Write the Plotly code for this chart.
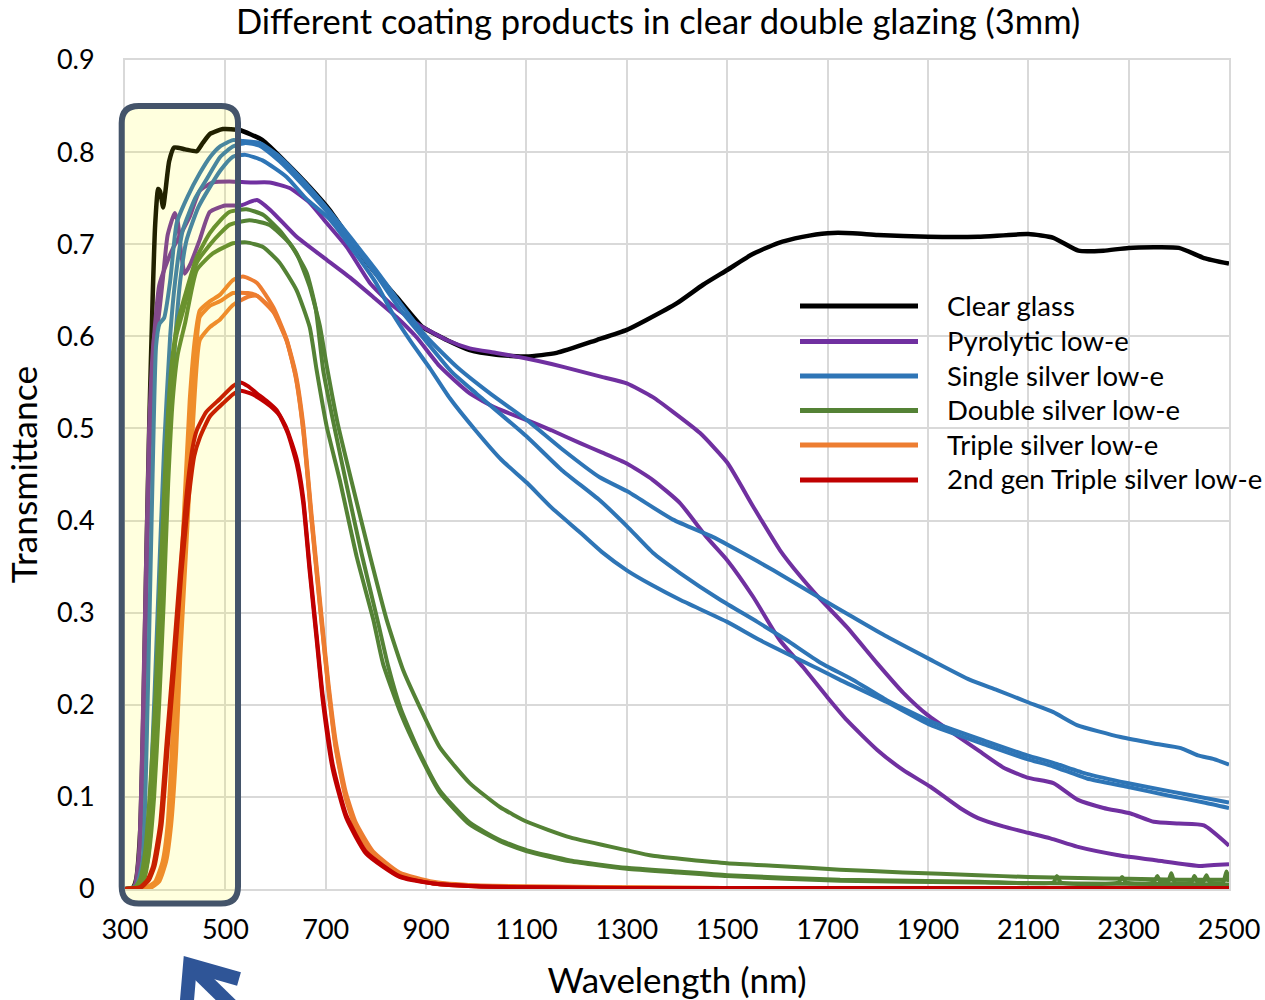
import plotly.graph_objects as go

# ---------------- data ----------------
clear_wl = [300, 315, 322, 330, 337, 343, 349, 355, 360, 366, 370, 376, 380, 388, 398, 420, 443, 455, 470, 495,
            528, 574, 622, 668, 708, 754, 794, 841, 893, 941, 987, 1040, 1100, 1160, 1240, 1300, 1340, 1400, 1452,
            1500, 1550, 1600, 1650, 1700, 1750, 1800, 1900, 2000, 2100, 2150, 2200, 2250, 2300, 2400, 2450, 2500]
clear_t = [0, 0.001, 0.01, 0.06, 0.2, 0.37, 0.52, 0.64, 0.72, 0.76, 0.757, 0.74, 0.755, 0.79, 0.805, 0.803, 0.801,
           0.81, 0.82, 0.825, 0.824, 0.813, 0.788, 0.762, 0.737, 0.701, 0.672, 0.643, 0.61, 0.596, 0.585, 0.58,
           0.578, 0.582, 0.596, 0.607, 0.618, 0.636, 0.656, 0.672, 0.689, 0.701, 0.708, 0.712, 0.712, 0.710, 0.708,
           0.708, 0.711, 0.707, 0.693, 0.693, 0.696, 0.696, 0.685, 0.679]

pyro1_wl = [300, 318, 328, 338, 348, 358, 368, 380, 395, 410, 429, 449, 475, 508, 550, 588, 628, 668, 702, 742,
            788, 828, 881, 941, 987, 1040, 1100, 1150, 1200, 1250, 1300, 1352, 1392, 1446, 1500, 1552, 1605, 1645,
            1685, 1739, 1799, 1851, 1899, 1951, 1999, 2050, 2098, 2150, 2198, 2250, 2304, 2350, 2400, 2450, 2500]
pyro1_t = [0, 0.002, 0.03, 0.2, 0.45, 0.6, 0.655, 0.675, 0.695, 0.71, 0.73, 0.758, 0.767, 0.768, 0.767, 0.767,
           0.761, 0.745, 0.723, 0.697, 0.658, 0.636, 0.614, 0.596, 0.587, 0.582, 0.576, 0.57, 0.563, 0.556, 0.549,
           0.534, 0.518, 0.495, 0.463, 0.415, 0.368, 0.34, 0.315, 0.284, 0.245, 0.213, 0.189, 0.169, 0.151, 0.132,
           0.121, 0.115, 0.097, 0.088, 0.082, 0.073, 0.071, 0.069, 0.047]

pyro2_wl = [300, 318, 328, 338, 348, 358, 366, 375, 385, 399, 405, 412, 419, 430, 449, 469, 500, 530, 563, 590,
            642, 702, 748, 794, 841, 881, 928, 987, 1040, 1101, 1150, 1207, 1250, 1300, 1352, 1406, 1459, 1500,
            1552, 1605, 1651, 1700, 1739, 1799, 1851, 1905, 1964, 2000, 2050, 2100, 2144, 2197, 2277, 2357, 2443,
            2470, 2500]
pyro2_t = [0, 0.002, 0.04, 0.25, 0.5, 0.6, 0.617, 0.66, 0.71, 0.734, 0.725, 0.69, 0.668, 0.678, 0.705, 0.735,
           0.742, 0.742, 0.748, 0.737, 0.708, 0.683, 0.664, 0.643, 0.621, 0.599, 0.567, 0.538, 0.522, 0.509, 0.498,
           0.484, 0.474, 0.462, 0.444, 0.419, 0.382, 0.357, 0.317, 0.27, 0.241, 0.208, 0.183, 0.151, 0.129, 0.111,
           0.088, 0.077, 0.068, 0.061, 0.055, 0.046, 0.037, 0.031, 0.025, 0.026, 0.027]

single1_wl = [300, 322, 335, 345, 355, 362, 369, 378, 390, 403, 425, 449, 470, 489, 515, 535, 568, 608, 650, 700,
              750, 800, 850, 900, 961, 1030, 1101, 1170, 1246, 1300, 1392, 1472, 1530, 1592, 1691, 1751, 1818,
              1905, 1984, 2038, 2098, 2150, 2197, 2284, 2350, 2404, 2438, 2470, 2500]
single1_t = [0, 0.003, 0.03, 0.2, 0.45, 0.59, 0.614, 0.62, 0.66, 0.723, 0.752, 0.777, 0.795, 0.806, 0.813, 0.812,
             0.81, 0.795, 0.772, 0.741, 0.707, 0.672, 0.635, 0.6, 0.567, 0.537, 0.509, 0.478, 0.447, 0.432, 0.401,
             0.382, 0.365, 0.346, 0.314, 0.295, 0.274, 0.249, 0.227, 0.216, 0.203, 0.192, 0.178, 0.165, 0.158,
             0.153, 0.145, 0.141, 0.135]

single2_wl = [300, 328, 340, 352, 365, 378, 390, 400, 415, 440, 462, 490, 515, 540, 568, 608, 650, 700, 750, 800,
              850, 901, 950, 1000, 1101, 1170, 1246, 1300, 1352, 1406, 1486, 1560, 1619, 1685, 1751, 1818, 1905,
              2018, 2098, 2150, 2217, 2297, 2383, 2450, 2500]
single2_t = [0, 0.003, 0.03, 0.12, 0.3, 0.48, 0.6, 0.66, 0.715, 0.75, 0.77, 0.795, 0.806, 0.81, 0.807, 0.79,
             0.767, 0.737, 0.703, 0.667, 0.628, 0.594, 0.562, 0.538, 0.491, 0.455, 0.422, 0.394, 0.365, 0.343,
             0.314, 0.29, 0.27, 0.246, 0.227, 0.205, 0.182, 0.16, 0.145, 0.137, 0.125, 0.115, 0.106, 0.099, 0.094]

single3_wl = [300, 330, 345, 358, 372, 385, 398, 410, 423, 446, 469, 490, 515, 540, 574, 622, 660, 708, 750, 800,
              834, 870, 908, 947, 1000, 1050, 1101, 1150, 1207, 1250, 1300, 1350, 1406, 1500, 1566, 1685, 1725,
              1818, 1905, 2018, 2098, 2150, 2217, 2297, 2383, 2450, 2500]
single3_t = [0, 0.003, 0.03, 0.12, 0.3, 0.45, 0.58, 0.66, 0.705, 0.74, 0.762, 0.78, 0.795, 0.797, 0.791, 0.773,
             0.75, 0.727, 0.697, 0.658, 0.624, 0.594, 0.565, 0.533, 0.497, 0.466, 0.441, 0.414, 0.387, 0.366,
             0.346, 0.33, 0.314, 0.29, 0.27, 0.238, 0.227, 0.203, 0.178, 0.156, 0.141, 0.133, 0.12, 0.111, 0.101,
             0.094, 0.088]

double1_wl = [300, 320, 330, 340, 349, 360, 369, 378, 386, 395, 405, 420, 443, 469, 490, 508, 542, 575, 608, 642,
              668, 688, 702, 724, 754, 788, 821, 854, 887, 927, 987, 1047, 1101, 1187, 1300, 1352, 1500, 1600,
              1725, 1850, 2000, 2100, 2200, 2300, 2400, 2500]
double1_t = [0, 0.002, 0.01, 0.04, 0.1, 0.2, 0.32, 0.43, 0.52, 0.58, 0.615, 0.645, 0.686, 0.712, 0.726, 0.735,
             0.738, 0.732, 0.715, 0.69, 0.654, 0.612, 0.568, 0.505, 0.437, 0.362, 0.293, 0.238, 0.198, 0.154,
             0.115, 0.089, 0.073, 0.056, 0.042, 0.036, 0.028, 0.025, 0.021, 0.018, 0.015, 0.013, 0.012, 0.011,
             0.01, 0.01]

double2_wl = [300, 325, 335, 345, 355, 365, 374, 383, 392, 402, 418, 443, 470, 490, 508, 548, 588, 628, 662, 680,
              695, 714, 741, 771, 804, 824, 850, 887, 927, 987, 1047, 1101, 1187, 1300, 1400, 1500, 1725, 2000,
              2150, 2157, 2165, 2280, 2287, 2295, 2350, 2357, 2364, 2378, 2385, 2392, 2425, 2431, 2438, 2448,
              2455, 2462, 2488, 2495, 2500]
double2_t = [0, 0.002, 0.01, 0.04, 0.1, 0.2, 0.32, 0.45, 0.55, 0.6, 0.632, 0.68, 0.7, 0.712, 0.721, 0.726,
             0.721, 0.701, 0.669, 0.63, 0.563, 0.51, 0.44, 0.365, 0.29, 0.243, 0.195, 0.148, 0.107, 0.072, 0.053,
             0.042, 0.031, 0.023, 0.019, 0.015, 0.01, 0.008, 0.007, 0.014, 0.007, 0.007, 0.013, 0.007, 0.007,
             0.014, 0.007, 0.007, 0.017, 0.007, 0.007, 0.014, 0.007, 0.007, 0.015, 0.007, 0.007, 0.019, 0.008]

double3_wl = [300, 328, 338, 348, 358, 368, 377, 386, 395, 405, 420, 443, 475, 515, 542, 575, 608, 642, 668, 682,
              702, 728, 762, 795, 814, 850, 887, 927, 987, 1047, 1101, 1187, 1300, 1400, 1500, 1725, 2000, 2200,
              2500]
double3_t = [0, 0.002, 0.01, 0.04, 0.1, 0.2, 0.31, 0.44, 0.53, 0.58, 0.615, 0.672, 0.69, 0.701, 0.702, 0.697,
             0.68, 0.65, 0.61, 0.563, 0.502, 0.444, 0.36, 0.292, 0.245, 0.19, 0.146, 0.105, 0.07, 0.052, 0.041,
             0.03, 0.022, 0.018, 0.014, 0.009, 0.007, 0.006, 0.005]

triple1_wl = [300, 340, 360, 375, 385, 395, 403, 415, 429, 440, 449, 469, 489, 515, 535, 563, 596, 622, 640, 655,
              672, 690, 705, 720, 740, 760, 794, 847, 914, 1000, 1100, 1300, 1500, 2500]
triple1_t = [0, 0.001, 0.008, 0.03, 0.07, 0.17, 0.27, 0.38, 0.531, 0.6, 0.628, 0.638, 0.645, 0.661, 0.665,
             0.658, 0.631, 0.597, 0.56, 0.505, 0.405, 0.305, 0.225, 0.16, 0.105, 0.072, 0.041, 0.018, 0.008,
             0.004, 0.003, 0.002, 0.001, 0.001]

triple2_wl = [300, 345, 365, 378, 388, 398, 406, 418, 432, 442, 449, 469, 489, 515, 545, 563, 596, 622, 640, 655,
              672, 690, 705, 720, 740, 760, 794, 847, 914, 1000, 1200, 1500, 2500]
triple2_t = [0, 0.001, 0.008, 0.03, 0.07, 0.16, 0.26, 0.38, 0.53, 0.59, 0.621, 0.633, 0.638, 0.647, 0.647,
             0.644, 0.626, 0.595, 0.557, 0.5, 0.4, 0.3, 0.22, 0.155, 0.1, 0.068, 0.038, 0.016, 0.007, 0.003,
             0.002, 0.001, 0.001]

triple3_wl = [300, 350, 368, 382, 392, 402, 410, 422, 436, 449, 469, 489, 515, 545, 563, 596, 622, 640, 655, 672,
              690, 705, 720, 740, 760, 794, 847, 914, 1000, 1200, 1500, 2500]
triple3_t = [0, 0.001, 0.008, 0.03, 0.07, 0.15, 0.25, 0.37, 0.51, 0.596, 0.61, 0.618, 0.634, 0.643, 0.644,
             0.627, 0.596, 0.556, 0.498, 0.398, 0.298, 0.218, 0.152, 0.098, 0.066, 0.037, 0.015, 0.006, 0.003,
             0.002, 0.001, 0.001]

gen2_1_wl = [300, 320, 330, 345, 356, 370, 383, 395, 409, 423, 435, 443, 462, 489, 515, 530, 545, 563, 582, 602,
             622, 642, 655, 668, 682, 694, 714, 741, 781, 847, 914, 1000, 1100, 1300, 2500]
gen2_1_t = [0, 0.001, 0.002, 0.01, 0.025, 0.07, 0.16, 0.24, 0.34, 0.43, 0.48, 0.498, 0.518, 0.532, 0.546, 0.55,
            0.546, 0.538, 0.53, 0.52, 0.5, 0.467, 0.425, 0.35, 0.275, 0.21, 0.135, 0.08, 0.04, 0.014, 0.006,
            0.003, 0.002, 0.001, 0.001]

gen2_2_wl = [300, 322, 333, 348, 359, 373, 386, 398, 412, 426, 438, 449, 469, 495, 515, 530, 550, 570, 590, 608,
             625, 642, 655, 668, 682, 694, 714, 741, 781, 847, 914, 1000, 1100, 1300, 2500]
gen2_2_t = [0, 0.001, 0.002, 0.01, 0.025, 0.07, 0.16, 0.24, 0.34, 0.42, 0.47, 0.49, 0.513, 0.527, 0.537, 0.541,
            0.538, 0.532, 0.524, 0.514, 0.494, 0.462, 0.42, 0.345, 0.27, 0.205, 0.13, 0.077, 0.038, 0.013, 0.006,
            0.003, 0.002, 0.001, 0.001]

x_ticks = [300, 500, 700, 900, 1100, 1300, 1500, 1700, 1900, 2100, 2300, 2500]
y_ticks = [0, 0.1, 0.2, 0.3, 0.4, 0.5, 0.6, 0.7, 0.8, 0.9]
y_tick_text = ["0", "0.1", "0.2", "0.3", "0.4", "0.5", "0.6", "0.7", "0.8", "0.9"]

names = ["Clear glass", "Pyrolytic low-e", "Single silver low-e", "Double silver low-e",
         "Triple silver low-e", "2nd gen Triple silver low-e"]
colors = ["#000000", "#7030A0", "#2E75B6", "#548235", "#ED7D31", "#C00000"]

groups = [
    [(clear_wl, clear_t)],
    [(pyro1_wl, pyro1_t), (pyro2_wl, pyro2_t)],
    [(single1_wl, single1_t), (single2_wl, single2_t), (single3_wl, single3_t)],
    [(double1_wl, double1_t), (double2_wl, double2_t), (double3_wl, double3_t)],
    [(triple1_wl, triple1_t), (triple2_wl, triple2_t), (triple3_wl, triple3_t)],
    [(gen2_1_wl, gen2_1_t), (gen2_2_wl, gen2_2_t)],
]

FONT = "Lato"

# ---------------- layout geometry (page pixels) ----------------
W, H = 1265, 1000
PL, PR, PT, PB = 125, 1229, 60, 889          # plot area
ML, MT = PL, PT
PW, PH = PR - PL, PB - PT
MR, MB = W - ML - PW, H - MT - PH


def px(x):
    return (x - PL) / PW


def py(y):
    return (PB - y) / PH


fig = go.Figure()
for name, color, curves in zip(names, colors, groups):
    for i, (wl, t) in enumerate(curves):
        fig.add_trace(go.Scatter(
            x=wl, y=t, mode="lines", name=name, legendgroup=name,
            showlegend=False,
            line=dict(color=color, width=4.5 if color == "#000000" else 4,
                      shape="spline", smoothing=0.5),
            hoverinfo="x+y+name",
        ))

shapes = []
annotations = []

# highlighted region (rounded rectangle, drawn over the curves)
x0, x1, y0, y1, r = 121.7, 238.0, 106.0, 903.5, 17.0
pts = [
    ("M", (x0 + r, y0)), ("L", (x1 - r, y0)), ("Q", (x1, y0), (x1, y0 + r)),
    ("L", (x1, y1 - r)), ("Q", (x1, y1), (x1 - r, y1)), ("L", (x0 + r, y1)),
    ("Q", (x0, y1), (x0, y1 - r)), ("L", (x0, y0 + r)), ("Q", (x0, y0), (x0 + r, y0)),
]
path = ""
for item in pts:
    cmd = item[0]
    coords = " ".join(f"{px(a):.5f},{py(b):.5f}" for a, b in item[1:])
    path += f"{cmd} {coords} "
path += "Z"
shapes.append(dict(type="path", xref="paper", yref="paper", path=path,
                   fillcolor="rgba(255,255,0,0.13)", line=dict(color="#44546A", width=6),
                   layer="above"))

# arrow pointing at the highlighted region
arrow_col = "#2F5597"


def seg(a, b):
    return f"M {px(a[0]):.5f},{py(a[1]):.5f} L {px(b[0]):.5f},{py(b[1]):.5f}"


shapes.append(dict(type="path", xref="paper", yref="paper",
                   path=f"M {px(239):.5f},{py(979):.5f} L {px(190):.5f},{py(965):.5f} L {px(186):.5f},{py(1012):.5f}",
                   line=dict(color=arrow_col, width=14), layer="above"))
shapes.append(dict(type="path", xref="paper", yref="paper", path=seg((195, 970), (238, 1012)),
                   line=dict(color=arrow_col, width=14), layer="above"))

# legend: long line samples + labels
legend_rows = [306, 341.5, 376, 410.5, 445, 480]
for yrow, color, name in zip(legend_rows, colors, names):
    shapes.append(dict(type="line", xref="paper", yref="paper",
                       x0=px(800), x1=px(918), y0=py(yrow), y1=py(yrow),
                       line=dict(color=color, width=5), layer="above"))
    annotations.append(dict(text=name, xref="paper", yref="paper", x=px(945), y=py(yrow - 1),
                            xanchor="left", yanchor="middle", showarrow=False,
                            font=dict(size=27.5, family=FONT, color="black")))

fig.update_layout(
    width=W, height=H,
    margin=dict(l=ML, r=MR, t=MT, b=MB, autoexpand=False),
    paper_bgcolor="white", plot_bgcolor="white",
    font=dict(family=FONT, color="black"),
    title=dict(text="Different coating products in clear double glazing (3mm)",
               x=px(658), xref="paper", xanchor="center",
               y=1 - 22 / H, yref="container", yanchor="middle",
               font=dict(size=34.5, family=FONT, color="black")),
    shapes=shapes,
    annotations=annotations,
    showlegend=False,
)

fig.update_xaxes(
    range=[300, 2500], tickvals=x_ticks, ticktext=[str(v) for v in x_ticks],
    showgrid=True, gridcolor="#D9D9D9", gridwidth=2,
    showline=True, linecolor="#D9D9D9", linewidth=2, mirror=True,
    zeroline=False, ticks="", tickfont=dict(size=27, family=FONT, color="black"),
    ticklabelstandoff=16,
    title=dict(text="Wavelength (nm)", font=dict(size=35, family=FONT, color="black"), standoff=24),
)
fig.update_yaxes(
    range=[0, 0.9], tickvals=y_ticks, ticktext=y_tick_text,
    showgrid=True, gridcolor="#D9D9D9", gridwidth=2,
    showline=True, linecolor="#D9D9D9", linewidth=2, mirror=True,
    zeroline=False, ticks="", tickfont=dict(size=27, family=FONT, color="black"),
    ticklabelstandoff=23,
    title=dict(text="Transmittance", font=dict(size=35.5, family=FONT, color="black"), standoff=8),
)

# remove the default 8px page margin so the 1265x1000 figure fills the window exactly
fig.write_html("out.html", config={"displayModeBar": False},
               post_script="document.body.style.margin='0px';")
